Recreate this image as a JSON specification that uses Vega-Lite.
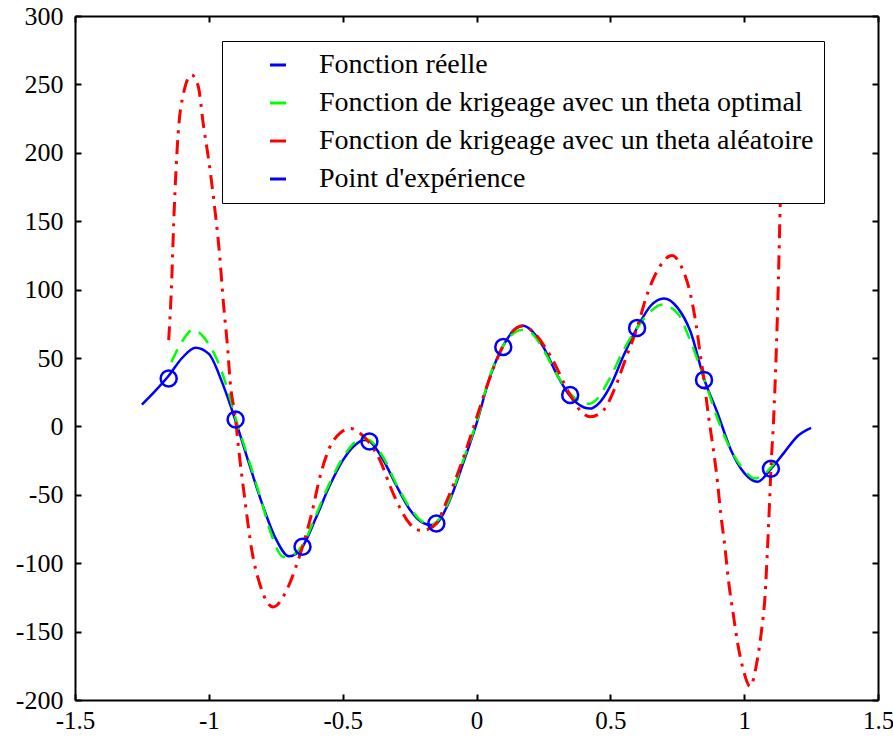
{
  "$schema": "https://vega.github.io/schema/vega-lite/v6.json",
  "width": 803,
  "height": 684,
  "autosize": {"type": "none"},
  "padding": {"left": 75, "top": 16, "right": 15, "bottom": 38},
  "background": "white",
  "config": {
    "view": {"stroke": null},
    "font": "Liberation Serif",
    "axis": {
      "domainColor": "black", "domainWidth": 2, "tickColor": "black", "tickWidth": 2, "tickSize": -6,
      "labelFont": "Liberation Serif", "labelFontSize": 26, "labelColor": "black",
      "grid": false, "title": null, "labelFlush": false, "labelOverlap": false, "labelBound": false
    }
  },
  "datasets": {
    "reelle": [
      {"x":-1.25,"y":16},{"x":-1.2,"y":26},{"x":-1.15,"y":37},{"x":-1.1,"y":50},{"x":-1.05,"y":57.5},{"x":-1.0,"y":53},{"x":-0.95,"y":32},{"x":-0.9,"y":4},{"x":-0.85,"y":-27},{"x":-0.8,"y":-57},{"x":-0.75,"y":-82},{"x":-0.7,"y":-95},{"x":-0.65,"y":-88},{"x":-0.6,"y":-67},{"x":-0.55,"y":-44},{"x":-0.5,"y":-25},{"x":-0.45,"y":-13},{"x":-0.42,"y":-10},{"x":-0.4,"y":-11},{"x":-0.35,"y":-24},{"x":-0.3,"y":-43},{"x":-0.25,"y":-60.5},{"x":-0.2,"y":-70.5},{"x":-0.17,"y":-72},{"x":-0.15,"y":-71},{"x":-0.1,"y":-54},{"x":-0.05,"y":-27},{"x":0,"y":2},{"x":0.05,"y":36},{"x":0.1,"y":59},{"x":0.15,"y":72},{"x":0.175,"y":73.5},{"x":0.2,"y":71},{"x":0.25,"y":58},{"x":0.3,"y":38},{"x":0.35,"y":22},{"x":0.4,"y":14},{"x":0.425,"y":13},{"x":0.45,"y":15.5},{"x":0.5,"y":29.5},{"x":0.55,"y":52},{"x":0.6,"y":72},{"x":0.65,"y":88},{"x":0.7,"y":93.5},{"x":0.75,"y":87},{"x":0.8,"y":69},{"x":0.85,"y":35},{"x":0.9,"y":10},{"x":0.95,"y":-17},{"x":1.0,"y":-34},{"x":1.05,"y":-40.5},{"x":1.1,"y":-31},{"x":1.15,"y":-19},{"x":1.2,"y":-7},{"x":1.25,"y":-1}
    ],
    "optimal": [
      {"x":-1.14,"y":47},{"x":-1.1,"y":62},{"x":-1.06,"y":70.5},{"x":-1.0,"y":60},{"x":-0.97,"y":49},{"x":-0.93,"y":27},{"x":-0.9,"y":6},{"x":-0.85,"y":-25},{"x":-0.8,"y":-57},{"x":-0.77,"y":-77},{"x":-0.72,"y":-95.5},{"x":-0.7,"y":-95},{"x":-0.65,"y":-87},{"x":-0.6,"y":-65},{"x":-0.55,"y":-42},{"x":-0.5,"y":-23},{"x":-0.45,"y":-11},{"x":-0.42,"y":-9},{"x":-0.4,"y":-10},{"x":-0.35,"y":-22},{"x":-0.3,"y":-42},{"x":-0.25,"y":-59},{"x":-0.2,"y":-70},{"x":-0.17,"y":-72},{"x":-0.15,"y":-70},{"x":-0.1,"y":-53},{"x":-0.05,"y":-25},{"x":0,"y":3},{"x":0.05,"y":37},{"x":0.1,"y":59},{"x":0.15,"y":69.5},{"x":0.17,"y":70.5},{"x":0.2,"y":69},{"x":0.25,"y":56},{"x":0.3,"y":38},{"x":0.35,"y":24},{"x":0.4,"y":17},{"x":0.42,"y":16.5},{"x":0.45,"y":20},{"x":0.5,"y":36},{"x":0.55,"y":56},{"x":0.6,"y":72},{"x":0.65,"y":84},{"x":0.69,"y":89},{"x":0.75,"y":83},{"x":0.8,"y":62},{"x":0.85,"y":35},{"x":0.9,"y":6},{"x":0.95,"y":-17},{"x":1.0,"y":-32},{"x":1.04,"y":-38},{"x":1.08,"y":-34},{"x":1.12,"y":-25}
    ],
    "aleatoire": [
      {"x":-1.15,"y":63},{"x":-1.14,"y":100},{"x":-1.13,"y":155},{"x":-1.115,"y":213},{"x":-1.095,"y":243},{"x":-1.065,"y":257},{"x":-1.04,"y":249},{"x":-1.02,"y":220},{"x":-1.0,"y":194},{"x":-0.98,"y":163},{"x":-0.96,"y":126},{"x":-0.945,"y":89},{"x":-0.93,"y":58},{"x":-0.92,"y":32},{"x":-0.9,"y":5},{"x":-0.89,"y":-14},{"x":-0.865,"y":-54},{"x":-0.84,"y":-90},{"x":-0.81,"y":-115},{"x":-0.76,"y":-132},{"x":-0.71,"y":-120},{"x":-0.67,"y":-100},{"x":-0.65,"y":-88},{"x":-0.615,"y":-63},{"x":-0.585,"y":-37},{"x":-0.55,"y":-16},{"x":-0.51,"y":-5},{"x":-0.47,"y":-1.5},{"x":-0.435,"y":-5},{"x":-0.4,"y":-12},{"x":-0.36,"y":-25},{"x":-0.32,"y":-45},{"x":-0.285,"y":-60},{"x":-0.25,"y":-71},{"x":-0.21,"y":-76},{"x":-0.18,"y":-75},{"x":-0.15,"y":-71},{"x":-0.11,"y":-54},{"x":-0.06,"y":-29},{"x":-0.01,"y":0},{"x":0.04,"y":30},{"x":0.1,"y":59},{"x":0.15,"y":72},{"x":0.175,"y":73.5},{"x":0.2,"y":71},{"x":0.275,"y":52},{"x":0.35,"y":23},{"x":0.39,"y":11},{"x":0.425,"y":7},{"x":0.475,"y":12},{"x":0.515,"y":27},{"x":0.56,"y":51},{"x":0.6,"y":72},{"x":0.635,"y":95},{"x":0.685,"y":117},{"x":0.73,"y":125},{"x":0.765,"y":117},{"x":0.8,"y":96},{"x":0.82,"y":75},{"x":0.835,"y":54},{"x":0.85,"y":34},{"x":0.865,"y":10},{"x":0.885,"y":-17},{"x":0.9,"y":-40},{"x":0.912,"y":-63},{"x":0.928,"y":-88},{"x":0.941,"y":-112},{"x":0.959,"y":-137},{"x":0.978,"y":-161},{"x":0.997,"y":-178},{"x":1.022,"y":-190},{"x":1.047,"y":-173},{"x":1.065,"y":-149},{"x":1.078,"y":-124},{"x":1.087,"y":-90},{"x":1.095,"y":-55},{"x":1.1,"y":-31},{"x":1.11,"y":5},{"x":1.12,"y":55},{"x":1.128,"y":107},{"x":1.135,"y":165},{"x":1.15,"y":240}
    ],
    "points": [
      {"x":-1.15,"y":35},{"x":-0.9,"y":5},{"x":-0.65,"y":-88},{"x":-0.4,"y":-11},{"x":-0.15,"y":-71},{"x":0.1,"y":58},{"x":0.35,"y":23},{"x":0.6,"y":72},{"x":0.85,"y":34},{"x":1.1,"y":-31}
    ]
  },
  "layer": [
    {
      "data": {"name": "reelle"},
      "mark": {"type": "line", "interpolate": "monotone", "strokeWidth": 2.5},
      "encoding": {
        "x": {"field": "x", "type": "quantitative", "scale": {"domain": [-1.5, 1.5], "nice": false, "zero": false},
              "axis": {"values": [-1.5, -1, -0.5, 0, 0.5, 1, 1.5], "labelExpr": "datum.value + ''", "labelPadding": 14, "labelFontSize": 25}},
        "y": {"field": "y", "type": "quantitative", "scale": {"domain": [-200, 300], "nice": false, "zero": false},
              "axis": {"values": [-200, -150, -100, -50, 0, 50, 100, 150, 200, 250, 300], "labelExpr": "datum.value + ''", "labelPadding": 18}},
        "color": {
          "datum": "Fonction réelle", "type": "nominal",
          "scale": {
            "domain": ["Fonction réelle", "Fonction de krigeage avec un theta optimal", "Fonction de krigeage avec un theta aléatoire", "Point d'expérience"],
            "range": ["#0000ff", "#00ff00", "#ff0000", "#0000ff"]
          },
          "legend": {
            "title": null, "orient": "none", "legendX": 147, "legendY": 25, "zindex": 1,
            "fillColor": "white", "strokeColor": "black", "padding": 10,
            "labelFont": "Liberation Serif", "labelFontSize": 28, "labelColor": "black", "labelLimit": 0,
            "symbolType": "stroke", "symbolSize": 256, "symbolOffset": 32, "labelOffset": 27, "rowPadding": 10, "symbolStrokeWidth": 3
          }
        }
      }
    },
    {
      "data": {"name": "optimal"},
      "mark": {"type": "line", "interpolate": "monotone", "strokeWidth": 2.5, "strokeDash": [14, 9]},
      "encoding": {
        "x": {"field": "x", "type": "quantitative", "axis": {"orient": "top", "labels": false, "values": [-1.5, -1, -0.5, 0, 0.5, 1, 1.5]}},
        "y": {"field": "y", "type": "quantitative", "axis": {"orient": "right", "labels": false, "values": [-200, -150, -100, -50, 0, 50, 100, 150, 200, 250, 300]}},
        "color": {"datum": "Fonction de krigeage avec un theta optimal", "type": "nominal"}
      }
    },
    {
      "data": {"name": "aleatoire"},
      "mark": {"type": "line", "interpolate": "monotone", "strokeWidth": 3, "strokeDash": [14, 7, 3, 7]},
      "encoding": {
        "x": {"field": "x", "type": "quantitative", "axis": null},
        "y": {"field": "y", "type": "quantitative", "axis": null},
        "color": {"datum": "Fonction de krigeage avec un theta aléatoire", "type": "nominal"}
      }
    },
    {
      "data": {"name": "points"},
      "mark": {"type": "point", "shape": "circle", "filled": false, "size": 256, "strokeWidth": 2.5, "opacity": 1},
      "encoding": {
        "x": {"field": "x", "type": "quantitative", "axis": null},
        "y": {"field": "y", "type": "quantitative", "axis": null},
        "color": {"datum": "Point d'expérience", "type": "nominal"}
      }
    }
  ],
  "resolve": {"axis": {"x": "independent", "y": "independent"}}
}
